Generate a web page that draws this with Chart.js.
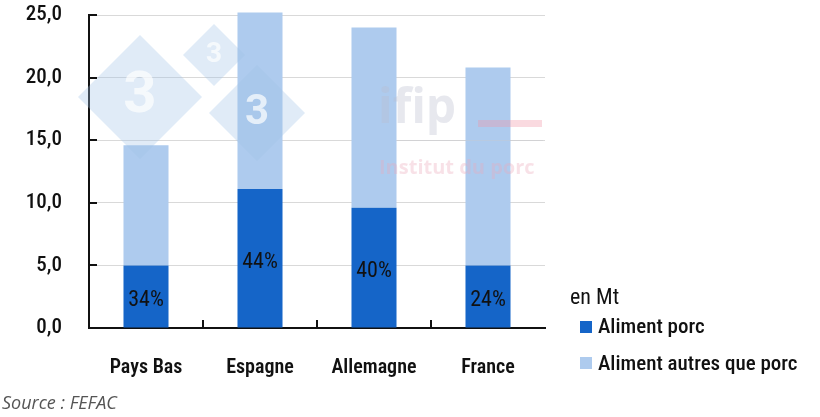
<!DOCTYPE html>
<html>
<head>
<meta charset="utf-8">
<script src="https://cdn.jsdelivr.net/npm/chart.js@4.4.1/dist/chart.umd.min.js"></script>
<style>
  html, body { margin: 0; padding: 0; background: #fff; }
  #wrap { width: 820px; height: 417px; }
</style>
</head>
<body>
<div id="wrap"><canvas id="graf"></canvas></div>
<script>
const pays = ['Pays Bas', 'Espagne', 'Allemagne', 'France'];
const alimentPorc = [5.0, 11.1, 9.6, 5.0];
const alimentAutres = [9.6, 14.1, 14.4, 15.8];
const pourcentages = ['34%', '44%', '40%', '24%'];
const graduations = [0, 5, 10, 15, 20, 25];

const police = "'Roboto Condensed', Roboto, sans-serif";
const bleuFonce = '#1565c8';
const bleuClair = '#aecbee';

// filigranes, marques internes, etiquettes et legende
const decor = {
  id: 'decor',
  afterDatasetsDraw(chart) {
    const ctx = chart.ctx;
    const area = chart.chartArea;
    const x = chart.scales.x, y = chart.scales.y;
    ctx.save();

    // losanges "3"
    [[140, 97, 62, 58], [214, 55, 31, 28], [257, 113, 48, 42]].forEach(([cx, cy, r, fs]) => {
      ctx.fillStyle = 'rgba(160,195,230,0.33)';
      ctx.beginPath();
      ctx.moveTo(cx, cy - r); ctx.lineTo(cx + r, cy); ctx.lineTo(cx, cy + r); ctx.lineTo(cx - r, cy);
      ctx.closePath(); ctx.fill();
      ctx.fillStyle = 'rgba(255,255,255,0.7)';
      ctx.font = 'bold ' + fs + 'px Roboto, sans-serif';
      ctx.textAlign = 'center'; ctx.textBaseline = 'middle';
      ctx.fillText('3', cx, cy);
    });

    // logo ifip
    ctx.fillStyle = 'rgba(185,190,205,0.35)';
    ctx.font = 'bold 48px "Open Sans", sans-serif';
    ctx.textAlign = 'left'; ctx.textBaseline = 'alphabetic';
    ctx.fillText('ifip', 378, 123);
    ctx.fillStyle = 'rgba(240,150,165,0.35)';
    ctx.fillRect(478, 120, 64, 7);
    ctx.fillStyle = 'rgba(200,200,205,0.4)';
    ctx.fillRect(397, 140, 146, 1);
    ctx.fillStyle = 'rgba(235,170,185,0.35)';
    ctx.font = 'bold 20px "Open Sans", sans-serif';
    ctx.fillText('Institut du porc', 379, 174);

    // marques internes
    ctx.strokeStyle = '#111'; ctx.lineWidth = 2;
    graduations.forEach(v => {
      const py = Math.round(y.getPixelForValue(v));
      ctx.beginPath(); ctx.moveTo(area.left, py); ctx.lineTo(area.left + 8, py); ctx.stroke();
    });
    for (let i = 1; i < pays.length; i++) {
      const px = Math.round((x.getPixelForValue(i - 1) + x.getPixelForValue(i)) / 2);
      ctx.beginPath(); ctx.moveTo(px, area.bottom); ctx.lineTo(px, area.bottom - 8); ctx.stroke();
    }

    // pourcentages
    const meta = chart.getDatasetMeta(0);
    ctx.fillStyle = '#111';
    ctx.font = '22px ' + police;
    ctx.textAlign = 'center'; ctx.textBaseline = 'middle';
    meta.data.forEach((bar, i) => {
      ctx.fillText(pourcentages[i], bar.x, (bar.y + bar.base) / 2 + 4);
    });

    // legende
    ctx.textAlign = 'left'; ctx.textBaseline = 'middle';
    ctx.fillStyle = '#111';
    ctx.font = '22px ' + police;
    ctx.fillText('en Mt', 570, 298);
    ctx.font = '500 21px ' + police;
    ctx.fillStyle = bleuFonce; ctx.fillRect(580, 321, 12, 12);
    ctx.fillStyle = '#111'; ctx.fillText('Aliment porc', 598, 328);
    ctx.fillStyle = bleuClair; ctx.fillRect(580, 357, 12, 12);
    ctx.fillStyle = '#111'; ctx.fillText('Aliment autres que porc', 598, 365);

    // source
    ctx.fillStyle = '#555';
    ctx.font = 'italic 18px "Open Sans", sans-serif';
    ctx.fillText('Source : FEFAC', 2, 404);
    ctx.restore();
  }
};

new Chart(document.getElementById('graf'), {
  type: 'bar',
  data: {
    labels: pays,
    datasets: [
      { label: 'Aliment porc', data: alimentPorc, backgroundColor: bleuFonce, clip: false },
      { label: 'Aliment autres que porc', data: alimentAutres, backgroundColor: bleuClair, clip: false }
    ]
  },
  options: {
    responsive: true,
    maintainAspectRatio: false,
    animation: false,
    layout: { padding: { top: 15, right: 275, left: 0, bottom: 0 } },
    datasets: { bar: { categoryPercentage: 1, barPercentage: 0.395 } },
    scales: {
      x: {
        stacked: true,
        grid: { display: false, drawTicks: false },
        border: { color: '#111', width: 2 },
        ticks: { color: '#111', padding: 28, font: { family: police, size: 20, weight: '600' } },
        afterFit: s => { s.height = 89; }
      },
      y: {
        stacked: true,
        min: 0, max: 25,
        grid: { color: '#d9d9d9', drawTicks: false },
        border: { color: '#111', width: 2 },
        ticks: {
          stepSize: 5, color: '#111', padding: 27,
          font: { family: police, size: 21, weight: '500' },
          callback: v => v.toFixed(1).replace('.', ',')
        },
        afterFit: s => { s.width = 89; s.paddingTop = 0; s.paddingBottom = 0; }
      }
    },
    plugins: {
      legend: { display: false },
      tooltip: { enabled: false }
    }
  },
  plugins: [decor]
});
</script>
</body>
</html>
